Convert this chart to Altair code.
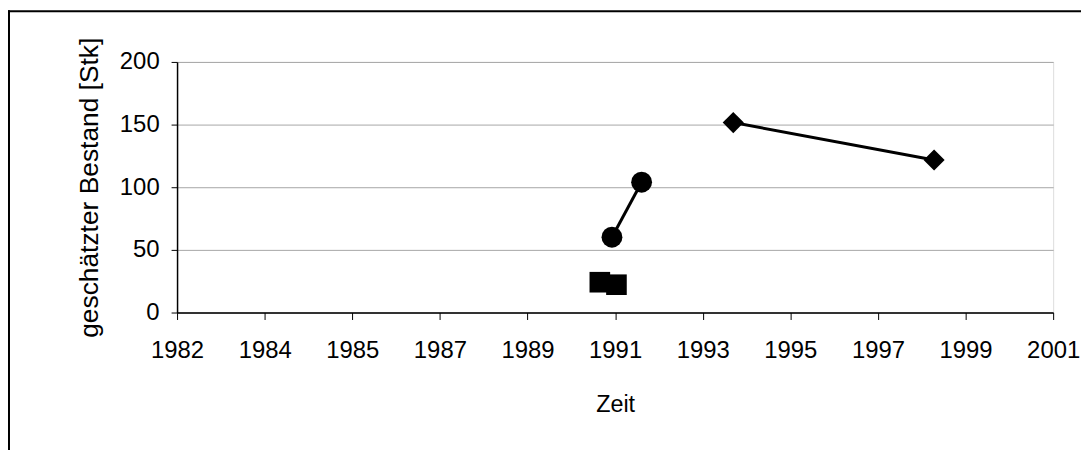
import altair as alt
import pandas as pd

# data (x in decimal years on the chart's date axis)
square_x = [1991.48, 1991.85]
square_y = [24.2, 22.2]
circle_x = [1991.75, 1992.41]
circle_y = [60.1, 104.0]
diamond_x = [1994.45, 1998.92]
diamond_y = [151.6, 121.7]

series_names = ["Reihe 1", "Reihe 2", "Reihe 3"]
shapes = ["square", "circle", "diamond"]
sizes = [430, 450, 500]

x_ticks = [1982.07, 1984.02, 1985.97, 1987.92, 1989.87, 1991.82,
           1993.77, 1995.72, 1997.67, 1999.62, 2001.57]
y_ticks = [0, 50, 100, 150, 200]

rows = []
for name, xs, ys in zip(series_names, [square_x, circle_x, diamond_x],
                        [square_y, circle_y, diamond_y]):
    for xv, yv in zip(xs, ys):
        rows.append({"serie": name, "x": xv, "y": yv})
df = pd.DataFrame(rows)

FONT = "Liberation Sans"
W, H = 881, 252

x_enc = alt.X("x:Q",
              scale=alt.Scale(domain=[x_ticks[0], x_ticks[-1]], nice=False, zero=False),
              axis=alt.Axis(values=x_ticks, labelExpr="floor(datum.value)", grid=False,
                            title="Zeit", titleX=W / 2, titleY=93, titleBaseline="middle",
                            titleFontSize=23.5, titleFontWeight="normal",
                            labelFontSize=24, labelBaseline="middle",
                            tickSize=7, labelPadding=31,
                            domainColor="black", tickColor="black", domainWidth=1.5,
                            labelColor="black", titleColor="black", labelFlush=False))
y_enc = alt.Y("y:Q",
              scale=alt.Scale(domain=[0, 200], nice=False),
              axis=alt.Axis(values=y_ticks, grid=True, gridColor="#a6a6a6",
                            title="geschätzter Bestand [Stk]", titleX=-88, titleY=H / 2,
                            titleBaseline="middle", titleAlign="center", titleAngle=-90,
                            titleFontSize=26.5, titleFontWeight="normal",
                            labelFontSize=24, tickSize=6, labelPadding=12,
                            domainColor="black", tickColor="black", domainWidth=1.5,
                            labelColor="black", titleColor="black", labelFlush=False))

base = alt.Chart(df)
lines = base.mark_line(color="black", strokeWidth=3).encode(
    x=x_enc, y=y_enc, detail="serie:N")
points = base.mark_point(filled=True, opacity=1, color="black").encode(
    x="x:Q", y="y:Q",
    shape=alt.Shape("serie:N", scale=alt.Scale(domain=series_names, range=shapes), legend=None),
    size=alt.Size("serie:N", scale=alt.Scale(domain=series_names, range=sizes), legend=None),
)

frame_df = pd.DataFrame({"a": [0]})
frame_left = alt.Chart(frame_df).mark_rule(color="black", strokeWidth=2).encode(
    x=alt.value(-169), y=alt.value(-52), y2=alt.value(H + 200))
frame_top = alt.Chart(frame_df).mark_rule(color="black", strokeWidth=2).encode(
    x=alt.value(-170), x2=alt.value(W + 200), y=alt.value(-51))

chart = alt.layer(lines, points, frame_left, frame_top).properties(
    width=W, height=H,
    autosize=alt.AutoSizeParams(type="none"),
    padding={"left": 170, "top": 53, "right": 28, "bottom": 137},
).configure_view(stroke="#808080", strokeWidth=1.5).configure(
    font=FONT, background="white")

chart.save("out.html", embed_options={"renderer": "svg", "actions": False})
